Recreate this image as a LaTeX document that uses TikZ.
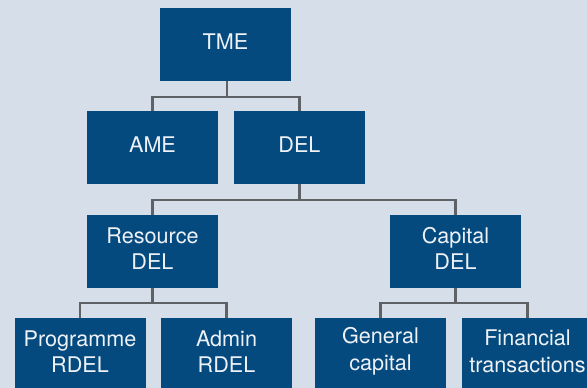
\documentclass[tikz,border=0pt]{standalone}
\usepackage{fontspec}
\setmainfont{TeX Gyre Heros}
\definecolor{bg}{HTML}{D6DEEA}
\definecolor{boxblue}{HTML}{054A7F}
\definecolor{linegray}{HTML}{5E6166}
\definecolor{txt}{HTML}{EEF2F7}
\begin{document}
\begin{tikzpicture}[x=1pt,y=-1pt,
  bx/.style={fill=boxblue,draw=none,minimum width=131pt,minimum height=73pt,inner sep=0pt,
    label={[txtlbl]center:#1}},
  txtlbl/.style={text=txt,align=center,inner sep=0pt,yshift=3pt,
    font=\fontsize{21.6}{26.5}\selectfont},
  conn/.style={draw=linegray,line width=2.4pt}]
\useasboundingbox (0,0) rectangle (587,388);
\fill[bg] (0,0) rectangle (587,388);
\node[bx={TME}] (tme) at (225.5,44.5) {};
\node[bx={AME}] (ame) at (152.5,147.5) {};
\node[bx={DEL}] (del) at (299.5,147.5) {};
\node[bx={Resource\\DEL}] (rdel) at (152.5,251.5) {};
\node[bx={Capital\\DEL}] (cdel) at (455.5,251.5) {};
\node[bx={Programme\\RDEL}] (prog) at (80,354.5) {};
\node[bx={Admin\\RDEL}] (adm) at (226.5,354.5) {};
\node[bx={General\\capital}] (gen) at (380.5,354.5) {};
\node[bx={Financial\\transactions}] (fin) at (527.5,354.5) {};
\coordinate (j1) at (227,97);
\coordinate (j2) at (299.5,200);
\coordinate (j3) at (152.5,303);
\coordinate (j4) at (455.5,303);
\draw[conn] (tme.south -| j1) -- (j1);
\draw[conn] (ame.north) |- (j1) -| (del.north);
\draw[conn] (del.south) -- (j2);
\draw[conn] (rdel.north) |- (j2) -| (cdel.north);
\draw[conn] (rdel.south) -- (j3);
\draw[conn] (prog.north) |- (j3) -| (adm.north);
\draw[conn] (cdel.south) -- (j4);
\draw[conn] (gen.north) |- (j4) -| (fin.north);
\end{tikzpicture}
\end{document}
